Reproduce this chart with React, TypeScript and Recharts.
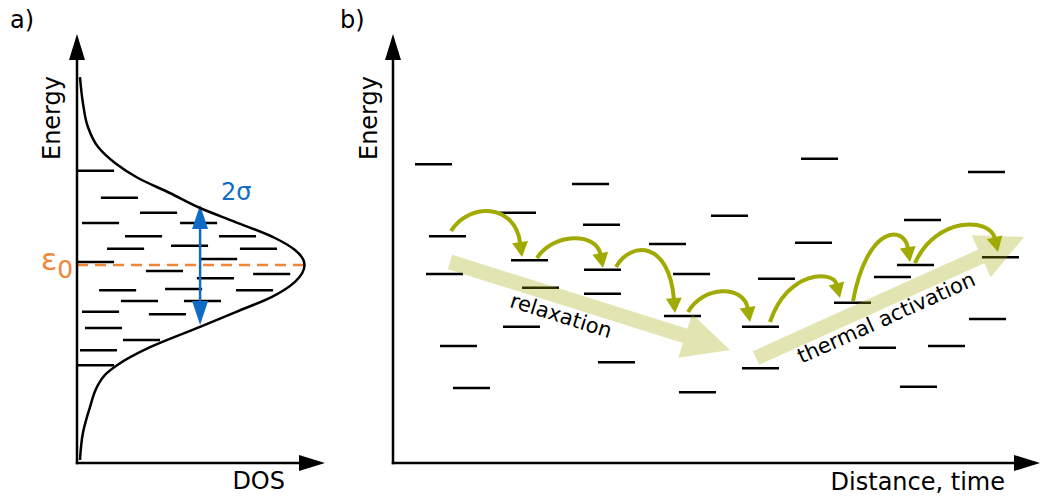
import React from 'react';
import { ComposedChart, XAxis, YAxis, Scatter, ReferenceLine, ReferenceDot } from 'recharts';

// ---- Shared scales: energy in units of sigma, measured from the DOS centre eps0 ----
const ENERGY_RANGE: [number, number] = [-3.3, 3.85];
const DOS_RANGE: [number, number] = [0, 1.09];
const DIST_RANGE: [number, number] = [0, 10];

// ---- Panel a: Gaussian density of states (normalised to its peak) ----
const dosCurve = [
  { e: 3.13, dos: 0.013 }, { e: 2.7, dos: 0.026 }, { e: 2.3, dos: 0.048 }, { e: 1.97, dos: 0.092 },
  { e: 1.7, dos: 0.167 }, { e: 1.45, dos: 0.268 }, { e: 1.2, dos: 0.408 }, { e: 0.95, dos: 0.541 },
  { e: 0.72, dos: 0.694 }, { e: 0.45, dos: 0.87 }, { e: 0.25, dos: 0.958 }, { e: 0, dos: 1.0 },
  { e: -0.28, dos: 0.958 }, { e: -0.53, dos: 0.857 }, { e: -0.78, dos: 0.7 }, { e: -1.03, dos: 0.541 },
  { e: -1.37, dos: 0.321 }, { e: -1.67, dos: 0.176 }, { e: -1.83, dos: 0.123 }, { e: -2.03, dos: 0.088 },
  { e: -2.37, dos: 0.057 }, { e: -2.8, dos: 0.026 }, { e: -3.25, dos: 0.013 },
];

// Localized states filling the DOS: left end (DOS units) and energy
const dosStates = [
  { dos: 0.0, e: 1.57 }, { dos: 0.105, e: 1.12 }, { dos: 0.277, e: 0.87 }, { dos: 0.022, e: 0.7 },
  { dos: 0.453, e: 0.7 }, { dos: 0.211, e: 0.48 }, { dos: 0.624, e: 0.48 }, { dos: 0.132, e: 0.27 },
  { dos: 0.413, e: 0.32 }, { dos: 0.716, e: 0.27 }, { dos: 0.541, e: 0.1 }, { dos: 0.0, e: 0.05 },
  { dos: 0.303, e: -0.1 }, { dos: 0.774, e: -0.15 }, { dos: 0.527, e: -0.22 }, { dos: 0.097, e: -0.42 },
  { dos: 0.387, e: -0.4 }, { dos: 0.699, e: -0.42 }, { dos: 0.193, e: -0.6 }, { dos: 0.47, e: -0.6 },
  { dos: 0.022, e: -0.78 }, { dos: 0.316, e: -0.82 }, { dos: 0.035, e: -1.05 }, { dos: 0.202, e: -1.25 },
  { dos: 0.013, e: -1.42 }, { dos: 0.0, e: -1.67 },
];

const EPS0 = 0;
const SIGMA_SPAN = { dos: 0.541, half: 1 };

// ---- Panel b: sites along the transport path (centre position, energy) ----
const sites = [
  { d: 0.626, e: 1.68 }, { d: 3.053, e: 1.35 }, { d: 1.924, e: 0.87 }, { d: 3.223, e: 0.67 },
  { d: 0.842, e: 0.48 }, { d: 4.243, e: 0.35 }, { d: 2.11, e: 0.08 }, { d: 3.238, e: -0.08 },
  { d: 0.796, e: -0.15 }, { d: 4.614, e: -0.15 }, { d: 2.28, e: -0.38 }, { d: 3.238, e: -0.48 },
  { d: 4.474, e: -0.85 }, { d: 1.986, e: -1.03 }, { d: 1.012, e: -1.35 }, { d: 3.454, e: -1.62 },
  { d: 1.213, e: -2.05 }, { d: 4.706, e: -2.12 }, { d: 6.592, e: 1.77 }, { d: 9.173, e: 1.55 },
  { d: 5.201, e: 0.82 }, { d: 8.184, e: 0.75 }, { d: 6.499, e: 0.37 }, { d: 9.389, e: 0.13 },
  { d: 8.076, e: 0.0 }, { d: 7.72, e: -0.2 }, { d: 5.927, e: -0.23 }, { d: 7.102, e: -0.63 },
  { d: 9.189, e: -0.9 }, { d: 5.68, e: -1.03 }, { d: 8.555, e: -1.35 }, { d: 7.488, e: -1.38 },
  { d: 5.68, e: -1.72 }, { d: 8.122, e: -2.03 },
];

// Hopping sequence: tail, tip and apex energy of each jump
const hops = [
  { d0: 0.896, e0: 0.567, d1: 1.994, e1: 0.133, apex: 0.867 },
  { d0: 2.226, e0: 0.117, d1: 3.246, e1: -0.05, apex: 0.417 },
  { d0: 3.447, e0: -0.033, d1: 4.359, e1: -0.8, apex: 0.2 },
  { d0: 4.56, e0: -0.783, d1: 5.518, e1: -0.95, apex: -0.467 },
  { d0: 5.827, e0: -0.95, d1: 6.909, e1: -0.55, apex: -0.25 },
  { d0: 7.11, e0: -0.6, d1: 7.991, e1: 0.05, apex: 0.433 },
  { d0: 8.068, e0: 0.033, d1: 9.351, e1: 0.217, apex: 0.633 },
];

// Overall trends of the carrier energy
const trends = [
  { d0: 0.881, e0: 0.05, d1: 5.209, e1: -1.417, label: 'relaxation', at: 0.416, off: 18 },
  { d0: 5.611, e0: -1.55, d1: 9.753, e1: 0.467, label: 'thermal activation', at: 0.46, off: 17 },
];

// ---- Styling ----
const FONT = "'DejaVu Sans', Verdana, sans-serif";
const INK = '#000';
const HOP_GREEN = '#a0aa00';
const SIGMA_BLUE = '#0f6cc4';
const EPS_ORANGE = '#ef8536';
const STATE_WIDTH_DOS = 0.163;
const SITE_WIDTH = 0.572;
const LABEL_SIZE = 24;
const TREND_LABEL_SIZE = 21;

type Seg = { x1?: number; y1?: number; x2?: number; y2?: number };

const AxisArrow = ({ x1 = 0, y1 = 0, x2 = 0, y2 = 0 }: Seg) => {
  const L = Math.hypot(x2 - x1, y2 - y1) || 1;
  const ux = (x2 - x1) / L;
  const uy = (y2 - y1) / L;
  const head = 26;
  const half = 8;
  const bx = x2 - ux * head;
  const by = y2 - uy * head;
  return (
    <g>
      <line x1={x1 - ux * 1.25} y1={y1 - uy * 1.25} x2={bx + ux} y2={by + uy} stroke={INK} strokeWidth={2.5} />
      <polygon
        points={`${x2},${y2} ${bx - uy * half},${by + ux * half} ${bx + uy * half},${by - ux * half}`}
        fill={INK}
      />
    </g>
  );
};

const StateLine = ({ x1 = 0, y1 = 0, x2 = 0, y2 = 0 }: Seg) => (
  <line x1={x1} y1={y1} x2={x2} y2={y2} stroke={INK} strokeWidth={2.5} />
);

const SigmaArrow = ({ x1 = 0, y1 = 0, x2 = 0, y2 = 0 }: Seg) => {
  const head = 24;
  const half = 8;
  const top = Math.min(y1, y2);
  const bot = Math.max(y1, y2);
  const x = x1;
  return (
    <g>
      <line x1={x} y1={top + head - 1} x2={x2} y2={bot - head + 1} stroke={SIGMA_BLUE} strokeWidth={2.5} />
      <polygon points={`${x},${top} ${x - half},${top + head} ${x + half},${top + head}`} fill={SIGMA_BLUE} />
      <polygon points={`${x},${bot} ${x - half},${bot - head} ${x + half},${bot - head}`} fill={SIGMA_BLUE} />
    </g>
  );
};

type Hop = (typeof hops)[number];

const HopArc = ({ x1 = 0, y1 = 0, x2 = 0, y2 = 0, hop }: Seg & { hop: Hop }) => {
  const ya = y1 + ((hop.apex - hop.e0) * (y2 - y1)) / (hop.e1 - hop.e0);
  const dx = x2 - x1;
  const c = (8 * ya - y1 - y2) / 6;
  const p1x = x1 + 0.25 * dx;
  const p2x = x2 - 0.1 * dx;
  let tx = x2 - p2x;
  let ty = y2 - c;
  const tl = Math.hypot(tx, ty) || 1;
  tx /= tl;
  ty /= tl;
  const head = 15;
  const half = 8;
  const bx = x2 - tx * head;
  const by = y2 - ty * head;
  return (
    <g>
      <path
        d={`M${x1},${y1} C${p1x},${c} ${p2x},${c} ${bx + tx},${by + ty}`}
        fill="none"
        stroke={HOP_GREEN}
        strokeWidth={4}
      />
      <polygon
        points={`${x2},${y2} ${bx - ty * half},${by + tx * half} ${bx + ty * half},${by - tx * half}`}
        fill={HOP_GREEN}
      />
    </g>
  );
};

type Trend = (typeof trends)[number];

const TrendArrow = ({ x1 = 0, y1 = 0, x2 = 0, y2 = 0, trend }: Seg & { trend: Trend }) => {
  const L = Math.hypot(x2 - x1, y2 - y1) || 1;
  const ux = (x2 - x1) / L;
  const uy = (y2 - y1) / L;
  const nx = -uy;
  const ny = ux;
  const shaft = 7.5;
  const head = 47;
  const headHalf = 23;
  const bx = x2 - ux * head;
  const by = y2 - uy * head;
  const pts = [
    [x1 + nx * shaft, y1 + ny * shaft],
    [bx + nx * shaft, by + ny * shaft],
    [bx + nx * headHalf, by + ny * headHalf],
    [x2, y2],
    [bx - nx * headHalf, by - ny * headHalf],
    [bx - nx * shaft, by - ny * shaft],
    [x1 - nx * shaft, y1 - ny * shaft],
  ]
    .map((p) => `${p[0]},${p[1]}`)
    .join(' ');
  const tx = x1 + ux * L * trend.at + nx * trend.off;
  const ty = y1 + uy * L * trend.at + ny * trend.off;
  const angle = (Math.atan2(uy, ux) * 180) / Math.PI;
  return (
    <g>
      <polygon points={pts} fill={HOP_GREEN} fillOpacity={0.3} />
      <text
        x={tx}
        y={ty}
        fontFamily={FONT}
        fontSize={TREND_LABEL_SIZE}
        fill={INK}
        textAnchor="middle"
        dominantBaseline="central"
        transform={`rotate(${angle} ${tx} ${ty})`}
      >
        {trend.label}
      </text>
    </g>
  );
};

type TextMarkProps = {
  cx?: number;
  cy?: number;
  dx: number;
  dy: number;
  text: string;
  size: number;
  color?: string;
  anchor?: 'start' | 'middle' | 'end';
  rotate?: number;
};

const TextMark = ({ cx = 0, cy = 0, dx, dy, text, size, color = INK, anchor = 'start', rotate = 0 }: TextMarkProps) => {
  const x = cx + dx;
  const y = cy + dy;
  return (
    <text
      x={x}
      y={y}
      fontSize={size}
      fontFamily={FONT}
      fill={color}
      textAnchor={anchor}
      transform={rotate ? `rotate(${rotate} ${x} ${y})` : undefined}
    >
      {text}
    </text>
  );
};

const EpsLabel = ({ cx = 0, cy = 0 }: { cx?: number; cy?: number }) => (
  <text x={cx - 36} y={cy + 5} fontFamily={FONT} fill={EPS_ORANGE}>
    <tspan fontSize={30}>ε</tspan>
    <tspan fontSize={25} dy={8}>
      0
    </tspan>
  </text>
);

const CHART_MARGIN_A = { top: 34, bottom: 38, left: 77, right: 15 };
const CHART_MARGIN_B = { top: 34, bottom: 38, left: 53, right: 0 };

function DosPanel() {
  return (
    <ComposedChart width={340} height={501} margin={CHART_MARGIN_A}>
      <XAxis type="number" dataKey="dos" domain={DOS_RANGE} allowDataOverflow hide />
      <YAxis type="number" dataKey="e" domain={ENERGY_RANGE} allowDataOverflow hide />
      {dosStates.map((s, i) => (
        <ReferenceLine
          key={`st${i}`}
          segment={[{ x: s.dos, y: s.e }, { x: s.dos + STATE_WIDTH_DOS, y: s.e }]}
          ifOverflow="visible"
          shape={(p: any) => <StateLine {...p} />}
        />
      ))}
      <ReferenceLine
        segment={[{ x: 0, y: EPS0 }, { x: 1, y: EPS0 }]}
        ifOverflow="visible"
        stroke={EPS_ORANGE}
        strokeWidth={2.5}
        strokeDasharray="11 7"
      />
      <Scatter
        data={dosCurve}
        isAnimationActive={false}
        line={{ stroke: INK, strokeWidth: 2.5 }}
        lineJointType="monotoneY"
        fill="none"
        shape={() => <g />}
      />
      <ReferenceLine
        segment={[
          { x: SIGMA_SPAN.dos, y: EPS0 + SIGMA_SPAN.half },
          { x: SIGMA_SPAN.dos, y: EPS0 - SIGMA_SPAN.half },
        ]}
        ifOverflow="visible"
        shape={(p: any) => <SigmaArrow {...p} />}
      />
      <ReferenceLine
        segment={[{ x: 0, y: ENERGY_RANGE[0] }, { x: 0, y: ENERGY_RANGE[1] }]}
        ifOverflow="visible"
        shape={(p: any) => <AxisArrow {...p} />}
      />
      <ReferenceLine
        segment={[{ x: 0, y: ENERGY_RANGE[0] }, { x: DOS_RANGE[1], y: ENERGY_RANGE[0] }]}
        ifOverflow="visible"
        shape={(p: any) => <AxisArrow {...p} />}
      />
      <ReferenceDot
        x={0}
        y={ENERGY_RANGE[1]}
        ifOverflow="visible"
        shape={(p: any) => <TextMark cx={p.cx} cy={p.cy} dx={-67} dy={-6} text="a)" size={LABEL_SIZE} />}
      />
      <ReferenceDot
        x={0}
        y={2.45}
        ifOverflow="visible"
        shape={(p: any) => (
          <TextMark cx={p.cx} cy={p.cy} dx={-17} dy={0} text="Energy" size={LABEL_SIZE} anchor="middle" rotate={-90} />
        )}
      />
      <ReferenceDot
        x={DOS_RANGE[1]}
        y={ENERGY_RANGE[0]}
        ifOverflow="visible"
        shape={(p: any) => (
          <TextMark cx={p.cx} cy={p.cy} dx={-40} dy={26} text="DOS" size={LABEL_SIZE} anchor="end" />
        )}
      />
      <ReferenceDot
        x={SIGMA_SPAN.dos}
        y={EPS0 + SIGMA_SPAN.half}
        ifOverflow="visible"
        shape={(p: any) => (
          <TextMark cx={p.cx} cy={p.cy} dx={21} dy={-5} text="2σ" size={24} color={SIGMA_BLUE} />
        )}
      />
      <ReferenceDot x={0} y={EPS0} ifOverflow="visible" shape={(p: any) => <EpsLabel cx={p.cx} cy={p.cy} />} />
    </ComposedChart>
  );
}

function HoppingPanel() {
  return (
    <ComposedChart width={700} height={501} margin={CHART_MARGIN_B}>
      <XAxis type="number" dataKey="d" domain={DIST_RANGE} allowDataOverflow hide />
      <YAxis type="number" dataKey="e" domain={ENERGY_RANGE} allowDataOverflow hide />
      {sites.map((s, i) => (
        <ReferenceLine
          key={`site${i}`}
          segment={[{ x: s.d - SITE_WIDTH / 2, y: s.e }, { x: s.d + SITE_WIDTH / 2, y: s.e }]}
          ifOverflow="visible"
          shape={(p: any) => <StateLine {...p} />}
        />
      ))}
      {trends.map((t, i) => (
        <ReferenceLine
          key={`trend${i}`}
          segment={[{ x: t.d0, y: t.e0 }, { x: t.d1, y: t.e1 }]}
          ifOverflow="visible"
          shape={(p: any) => <TrendArrow {...p} trend={t} />}
        />
      ))}
      {hops.map((h, i) => (
        <ReferenceLine
          key={`hop${i}`}
          segment={[{ x: h.d0, y: h.e0 }, { x: h.d1, y: h.e1 }]}
          ifOverflow="visible"
          shape={(p: any) => <HopArc {...p} hop={h} />}
        />
      ))}
      <ReferenceLine
        segment={[{ x: 0, y: ENERGY_RANGE[0] }, { x: 0, y: ENERGY_RANGE[1] }]}
        ifOverflow="visible"
        shape={(p: any) => <AxisArrow {...p} />}
      />
      <ReferenceLine
        segment={[{ x: 0, y: ENERGY_RANGE[0] }, { x: DIST_RANGE[1], y: ENERGY_RANGE[0] }]}
        ifOverflow="visible"
        shape={(p: any) => <AxisArrow {...p} />}
      />
      <ReferenceDot
        x={0}
        y={ENERGY_RANGE[1]}
        ifOverflow="visible"
        shape={(p: any) => <TextMark cx={p.cx} cy={p.cy} dx={-53} dy={-6} text="b)" size={LABEL_SIZE} />}
      />
      <ReferenceDot
        x={0}
        y={2.45}
        ifOverflow="visible"
        shape={(p: any) => (
          <TextMark cx={p.cx} cy={p.cy} dx={-16} dy={0} text="Energy" size={LABEL_SIZE} anchor="middle" rotate={-90} />
        )}
      />
      <ReferenceDot
        x={DIST_RANGE[1]}
        y={ENERGY_RANGE[0]}
        ifOverflow="visible"
        shape={(p: any) => (
          <TextMark cx={p.cx} cy={p.cy} dx={-35} dy={27} text="Distance, time" size={LABEL_SIZE} anchor="end" />
        )}
      />
    </ComposedChart>
  );
}

export default function App() {
  return (
    <div style={{ position: 'fixed', left: 0, top: 0, width: 1040, height: 501, background: '#fff' }}>
      <div style={{ position: 'absolute', left: 0, top: 0 }}>
        <DosPanel />
      </div>
      <div style={{ position: 'absolute', left: 340, top: 0 }}>
        <HoppingPanel />
      </div>
    </div>
  );
}
